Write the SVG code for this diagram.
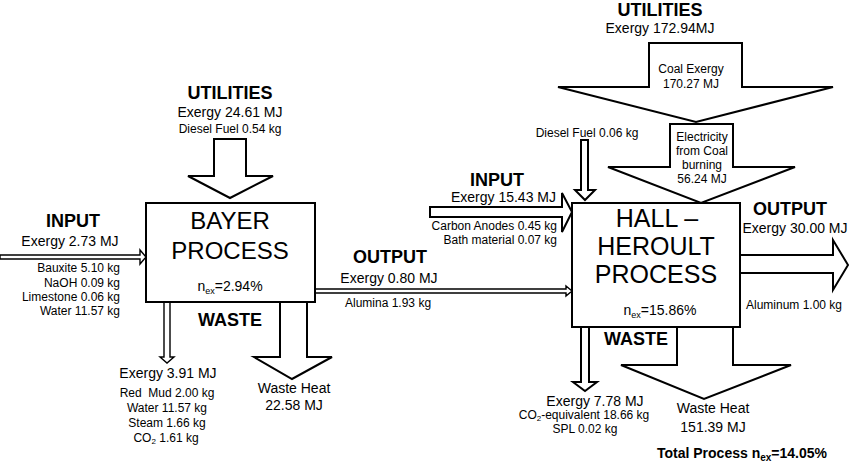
<svg xmlns="http://www.w3.org/2000/svg" width="850" height="462" viewBox="0 0 850 462">
<style>
text{font-family:"Liberation Sans",Arial,sans-serif;fill:#000}
.h{font-size:18px;font-weight:bold;text-anchor:middle}
.e{font-size:14px;text-anchor:middle}
.s{font-size:12px;text-anchor:middle}
.r{font-size:12px;text-anchor:end}
.big{font-size:24px;text-anchor:middle}
.big2{font-size:25px;text-anchor:middle}
.box{fill:#fff;stroke:#000;stroke-width:2}
.arr{fill:#fff;stroke:#000;stroke-width:2;stroke-linejoin:miter}
.thin{fill:#fff;stroke:#000;stroke-width:1.4}
</style>
<rect width="850" height="462" fill="#fff"/>
<g id="connectors">
<polygon class="thin" points="0,255 140,255 140,250 146,257 140,264 140,259 0,259"/>
<polygon class="arr" points="214,139 246,139 246,176 273,176 230,198 188,176 214,176"/>
<polygon class="thin" points="164,302 170,302 170,357 174,357 167,363 160,357 164,357"/>
<polygon class="arr" points="280,302 307,302 307,357 332,357 292,379 254,357 280,357"/>
<polygon class="thin" points="315,289 566,289 566,286 572,291 566,296 566,293 315,293"/>
<polygon class="arr" points="430,207 562,207 562,193 572,212 562,232 562,217 430,217"/>
<polygon class="arr" points="581,140 588,140 588,190 595,190 585,200 575,190 581,190"/>
<polygon class="arr" points="649,43 742,43 742,87 833,87 696,122 558,87 649,87"/>
<polygon class="arr" points="670,124 733,124 733,167 795,167 701,203 608,167 670,167"/>
<polygon class="arr" points="740,255 833,255 833,240 848,265 833,290 833,273 740,273"/>
<polygon class="arr" points="581,327 589,327 589,382 597,382 585,391 573,382 581,382"/>
<polygon class="arr" points="677,327 733,327 733,365 791,365 704,399 621,365 677,365"/>
</g>
<g id="bayer">
<rect class="box" x="146" y="203" width="169" height="99"/>
<text class="big" x="230" y="229">BAYER</text>
<text class="big" x="230" y="259">PROCESS</text>
<text class="e" x="230" y="291">n<tspan font-size="9" dy="3">ex</tspan><tspan dy="-3">=2.94%</tspan></text>
</g>
<g id="bayer-input">
<text class="h" x="73" y="227">INPUT</text>
<text class="e" x="70" y="246">Exergy 2.73 MJ</text>
<text class="r" x="120" y="272">Bauxite 5.10 kg</text>
<text class="r" x="120" y="286.5">NaOH 0.09 kg</text>
<text class="r" x="120" y="301">Limestone 0.06 kg</text>
<text class="r" x="120" y="315">Water 11.57 kg</text>
</g>
<g id="bayer-utilities">
<text class="h" x="230" y="99">UTILITIES</text>
<text class="e" x="230" y="117">Exergy 24.61 MJ</text>
<text class="s" x="230" y="133">Diesel Fuel 0.54 kg</text>
</g>
<g id="bayer-waste">
<text class="h" x="230" y="326">WASTE</text>
<text class="e" x="168" y="378">Exergy 3.91 MJ</text>
<text class="s" x="167" y="397" xml:space="preserve">Red  Mud 2.00 kg</text>
<text class="s" x="167" y="412">Water 11.57 kg</text>
<text class="s" x="167" y="427">Steam 1.66 kg</text>
<text class="s" x="166" y="442">CO<tspan font-size="8" dy="2">2</tspan><tspan dy="-2"> 1.61 kg</tspan></text>
<text class="e" x="294" y="393">Waste Heat</text>
<text class="e" x="294" y="410">22.58 MJ</text>
</g>
<g id="bayer-output">
<text class="h" x="390" y="263">OUTPUT</text>
<text class="e" x="389" y="283">Exergy 0.80 MJ</text>
<text class="s" x="345" y="307" style="text-anchor:start">Alumina 1.93 kg</text>
</g>
<g id="hall">
<rect class="box" x="572" y="203" width="168" height="124"/>
<text class="big2" x="657" y="227">HALL –</text>
<text class="big2" x="656" y="255">HEROULT</text>
<text class="big2" x="656" y="283">PROCESS</text>
<text class="e" x="660" y="315">n<tspan font-size="9" dy="3">ex</tspan><tspan dy="-3">=15.86%</tspan></text>
</g>
<g id="hall-input">
<text class="h" x="497" y="186">INPUT</text>
<text class="e" x="556" y="202" style="text-anchor:end">Exergy 15.43 MJ</text>
<text class="r" x="557" y="230">Carbon Anodes 0.45 kg</text>
<text class="r" x="557" y="244">Bath material 0.07 kg</text>
<text class="s" x="587" y="137">Diesel Fuel 0.06 kg</text>
</g>
<g id="hall-utilities">
<text class="h" x="660" y="16">UTILITIES</text>
<text class="e" x="660" y="33">Exergy 172.94MJ</text>
<text class="s" x="691" y="73">Coal Exergy</text>
<text class="s" x="691" y="88">170.27 MJ</text>
<text class="s" x="702" y="141">Electricity</text>
<text class="s" x="702" y="155">from Coal</text>
<text class="s" x="702" y="169">burning</text>
<text class="s" x="702" y="183">56.24 MJ</text>
</g>
<g id="hall-output">
<text class="h" x="790" y="215">OUTPUT</text>
<text class="e" x="795" y="233">Exergy 30.00 MJ</text>
<text class="s" x="794" y="309">Aluminum 1.00 kg</text>
</g>
<g id="hall-waste">
<text class="h" x="636" y="345">WASTE</text>
<text class="e" x="595" y="406">Exergy 7.78 MJ</text>
<text class="s" x="584" y="419">CO<tspan font-size="8" dy="2">2</tspan><tspan dy="-2">-equivalent 18.66 kg</tspan></text>
<text class="s" x="585" y="433">SPL 0.02 kg</text>
<text class="e" x="713" y="413">Waste Heat</text>
<text class="e" x="713" y="432">151.39 MJ</text>
</g>
<g id="total">
<text x="827" y="458" style="font-size:14px;font-weight:bold;text-anchor:end">Total Process n<tspan font-size="10" dy="3">ex</tspan><tspan dy="-3">=14.05%</tspan></text>
</g>
</svg>
